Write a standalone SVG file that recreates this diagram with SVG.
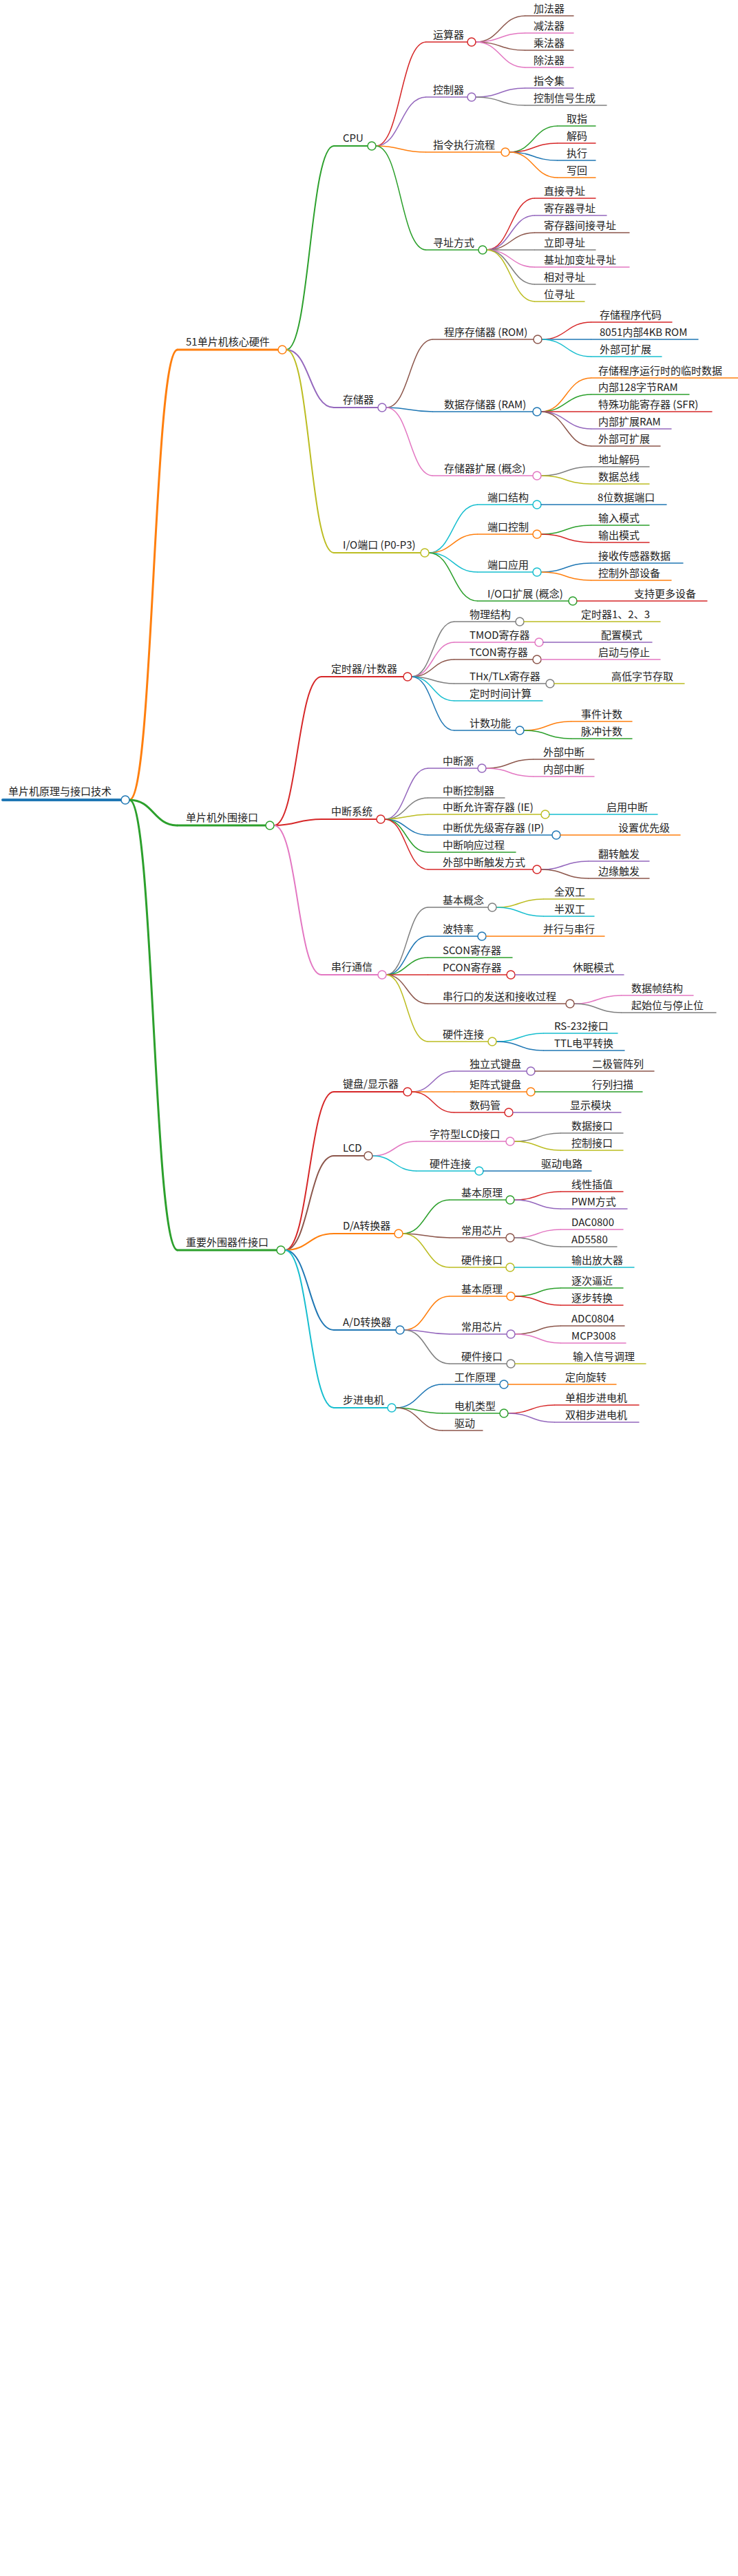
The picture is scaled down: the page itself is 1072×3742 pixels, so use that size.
<svg xmlns="http://www.w3.org/2000/svg" width="1072" height="3742" viewBox="0 0 1072 3742">
<style>
text{font-family:"Noto Sans CJK SC","Liberation Sans",sans-serif;font-size:15px;fill:#222}
path{fill:none}
line{stroke-linecap:round}
circle{fill:#fff;stroke-width:1.5}
.w4{stroke-width:4}.w3{stroke-width:3}.w2{stroke-width:2}.w1{stroke-width:1.5}
.bl{stroke:#1f77b4}.or{stroke:#ff7f0e}.gr{stroke:#2ca02c}.rd{stroke:#d62728}.pu{stroke:#9467bd}.br{stroke:#8c564b}.pk{stroke:#e377c2}.gy{stroke:#7f7f7f}.ol{stroke:#bcbd22}.cy{stroke:#17becf}
</style>
<rect width="1072" height="3742" fill="#fff"/>
<g id="connectors">
<path class="w3 or" d="M188 1162C223 1162 223 508 258 508"/>
<path class="w3 gr" d="M188 1162C223 1162 223 1199 258 1199"/>
<path class="w3 gr" d="M188 1162C223 1162 223 1816 258 1816"/>
<path class="w2 gr" d="M416 508C450 508 450 212 485 212"/>
<path class="w2 pu" d="M416 508C450 508 450 592 485 592"/>
<path class="w2 ol" d="M416 508C450 508 450 803 485 803"/>
<path class="w2 rd" d="M398 1199C432 1199 432 983 467 983"/>
<path class="w2 rd" d="M398 1199C432 1199 432 1190 467 1190"/>
<path class="w2 pk" d="M398 1199C432 1199 432 1416 467 1416"/>
<path class="w2 rd" d="M414 1816C449 1816 449 1586 485 1586"/>
<path class="w2 br" d="M414 1816C449 1816 449 1679 485 1679"/>
<path class="w2 or" d="M414 1816C449 1816 449 1792 485 1792"/>
<path class="w2 bl" d="M414 1816C449 1816 449 1932 485 1932"/>
<path class="w2 cy" d="M414 1816C449 1816 449 2045 485 2045"/>
<path class="w1 rd" d="M546 212C582 212 582 61 619 61"/>
<path class="w1 pu" d="M546 212C582 212 582 141 619 141"/>
<path class="w1 or" d="M546 212C582 212 582 221 619 221"/>
<path class="w1 gr" d="M546 212C582 212 582 363 619 363"/>
<path class="w1 br" d="M691 61C727 61 727 23 763 23"/>
<path class="w1 pk" d="M691 61C727 61 727 48 763 48"/>
<path class="w1 br" d="M691 61C727 61 727 73 763 73"/>
<path class="w1 pk" d="M691 61C727 61 727 98 763 98"/>
<path class="w1 pu" d="M691 141C727 141 727 128 763 128"/>
<path class="w1 gy" d="M691 141C727 141 727 153 763 153"/>
<path class="w1 gr" d="M740 221C775 221 775 183 810 183"/>
<path class="w1 rd" d="M740 221C775 221 775 208 810 208"/>
<path class="w1 bl" d="M740 221C775 221 775 233 810 233"/>
<path class="w1 or" d="M740 221C775 221 775 258 810 258"/>
<path class="w1 rd" d="M707 363C742 363 742 288 777 288"/>
<path class="w1 pu" d="M707 363C742 363 742 313 777 313"/>
<path class="w1 br" d="M707 363C742 363 742 338 777 338"/>
<path class="w1 gy" d="M707 363C742 363 742 363 777 363"/>
<path class="w1 pk" d="M707 363C742 363 742 388 777 388"/>
<path class="w1 gy" d="M707 363C742 363 742 413 777 413"/>
<path class="w1 ol" d="M707 363C742 363 742 438 777 438"/>
<path class="w1 br" d="M561 592C595 592 595 493 629 493"/>
<path class="w1 bl" d="M561 592C595 592 595 598 629 598"/>
<path class="w1 pk" d="M561 592C595 592 595 691 629 691"/>
<path class="w1 rd" d="M787 493C823 493 823 468 859 468"/>
<path class="w1 bl" d="M787 493C823 493 823 493 859 493"/>
<path class="w1 cy" d="M787 493C823 493 823 518 859 518"/>
<path class="w1 or" d="M786 598C822 598 822 549 859 549"/>
<path class="w1 gr" d="M786 598C822 598 822 573 859 573"/>
<path class="w1 rd" d="M786 598C822 598 822 598 859 598"/>
<path class="w1 pu" d="M786 598C822 598 822 623 859 623"/>
<path class="w1 br" d="M786 598C822 598 822 648 859 648"/>
<path class="w1 gy" d="M786 691C822 691 822 678 859 678"/>
<path class="w1 ol" d="M786 691C822 691 822 703 859 703"/>
<path class="w1 cy" d="M623 803C658 803 658 733 694 733"/>
<path class="w1 or" d="M623 803C658 803 658 776 694 776"/>
<path class="w1 cy" d="M623 803C658 803 658 831 694 831"/>
<path class="w1 gr" d="M623 803C658 803 658 873 694 873"/>
<path class="w1 gr" d="M786 776C822 776 822 763 859 763"/>
<path class="w1 rd" d="M786 776C822 776 822 788 859 788"/>
<path class="w1 bl" d="M786 831C822 831 822 818 859 818"/>
<path class="w1 or" d="M786 831C822 831 822 843 859 843"/>
<path class="w1 gy" d="M598 983C629 983 629 903 660 903"/>
<path class="w1 pk" d="M598 983C629 983 629 933 660 933"/>
<path class="w1 br" d="M598 983C629 983 629 958 660 958"/>
<path class="w1 gy" d="M598 983C629 983 629 993 660 993"/>
<path class="w1 cy" d="M598 983C629 983 629 1018 660 1018"/>
<path class="w1 bl" d="M598 983C629 983 629 1061 660 1061"/>
<path class="w1 or" d="M761 1061C795 1061 795 1048 830 1048"/>
<path class="w1 gr" d="M761 1061C795 1061 795 1073 830 1073"/>
<path class="w1 pu" d="M559 1190C590 1190 590 1116 622 1116"/>
<path class="w1 gy" d="M559 1190C590 1190 590 1159 622 1159"/>
<path class="w1 ol" d="M559 1190C590 1190 590 1183 622 1183"/>
<path class="w1 bl" d="M559 1190C590 1190 590 1213 622 1213"/>
<path class="w1 gr" d="M559 1190C590 1190 590 1238 622 1238"/>
<path class="w1 rd" d="M559 1190C590 1190 590 1263 622 1263"/>
<path class="w1 br" d="M706 1116C740 1116 740 1103 775 1103"/>
<path class="w1 pk" d="M706 1116C740 1116 740 1128 775 1128"/>
<path class="w1 pu" d="M786 1263C820 1263 820 1251 855 1251"/>
<path class="w1 br" d="M786 1263C820 1263 820 1276 855 1276"/>
<path class="w1 gy" d="M561 1416C591 1416 591 1318 622 1318"/>
<path class="w1 bl" d="M561 1416C591 1416 591 1360 622 1360"/>
<path class="w1 gr" d="M561 1416C591 1416 591 1391 622 1391"/>
<path class="w1 rd" d="M561 1416C591 1416 591 1416 622 1416"/>
<path class="w1 br" d="M561 1416C591 1416 591 1458 622 1458"/>
<path class="w1 ol" d="M561 1416C591 1416 591 1513 622 1513"/>
<path class="w1 ol" d="M721 1318C755 1318 755 1306 790 1306"/>
<path class="w1 cy" d="M721 1318C755 1318 755 1331 790 1331"/>
<path class="w1 pk" d="M834 1458C868 1458 868 1446 903 1446"/>
<path class="w1 gy" d="M834 1458C868 1458 868 1471 903 1471"/>
<path class="w1 cy" d="M721 1513C755 1513 755 1501 790 1501"/>
<path class="w1 bl" d="M721 1513C755 1513 755 1526 790 1526"/>
<path class="w1 pu" d="M598 1586C629 1586 629 1556 660 1556"/>
<path class="w1 or" d="M598 1586C629 1586 629 1586 660 1586"/>
<path class="w1 rd" d="M598 1586C629 1586 629 1616 660 1616"/>
<path class="w1 pk" d="M541 1679C573 1679 573 1658 605 1658"/>
<path class="w1 cy" d="M541 1679C573 1679 573 1701 605 1701"/>
<path class="w1 gy" d="M747 1658C781 1658 781 1646 815 1646"/>
<path class="w1 ol" d="M747 1658C781 1658 781 1671 815 1671"/>
<path class="w1 gr" d="M585 1792C619 1792 619 1743 653 1743"/>
<path class="w1 br" d="M585 1792C619 1792 619 1798 653 1798"/>
<path class="w1 ol" d="M585 1792C619 1792 619 1841 653 1841"/>
<path class="w1 rd" d="M747 1743C781 1743 781 1731 815 1731"/>
<path class="w1 pu" d="M747 1743C781 1743 781 1756 815 1756"/>
<path class="w1 pk" d="M747 1798C781 1798 781 1786 815 1786"/>
<path class="w1 gy" d="M747 1798C781 1798 781 1811 815 1811"/>
<path class="w1 or" d="M587 1932C620 1932 620 1883 653 1883"/>
<path class="w1 pu" d="M587 1932C620 1932 620 1938 653 1938"/>
<path class="w1 gy" d="M587 1932C620 1932 620 1981 653 1981"/>
<path class="w1 gr" d="M748 1883C782 1883 782 1871 815 1871"/>
<path class="w1 rd" d="M748 1883C782 1883 782 1896 815 1896"/>
<path class="w1 br" d="M748 1938C782 1938 782 1926 815 1926"/>
<path class="w1 pk" d="M748 1938C782 1938 782 1951 815 1951"/>
<path class="w1 bl" d="M575 2045C609 2045 609 2011 643 2011"/>
<path class="w1 gr" d="M575 2045C609 2045 609 2053 643 2053"/>
<path class="w1 br" d="M575 2045C609 2045 609 2078 643 2078"/>
<path class="w1 rd" d="M738 2053C772 2053 772 2041 806 2041"/>
<path class="w1 pu" d="M738 2053C772 2053 772 2066 806 2066"/>
</g>

<g id="n-root"><line class="w4 bl" x1="4" y1="1162" x2="176" y2="1162"/><circle class="bl" cx="182" cy="1162" r="6"/><text x="12" y="1155">单片机原理与接口技术</text></g>

<g id="n-core"><line class="w3 or" x1="258" y1="508" x2="404" y2="508"/><circle class="or" cx="410" cy="508" r="6"/><text x="270" y="502">51单片机核心硬件</text></g>
<g id="n-periph"><line class="w3 gr" x1="258" y1="1199" x2="386" y2="1199"/><circle class="gr" cx="392" cy="1199" r="6"/><text x="270" y="1193">单片机外围接口</text></g>
<g id="n-dev"><line class="w3 gr" x1="258" y1="1816" x2="402" y2="1816"/><circle class="gr" cx="408" cy="1816" r="6"/><text x="270" y="1810">重要外围器件接口</text></g>

<g id="n-cpu"><line class="w2 gr" x1="485" y1="212" x2="534" y2="212"/><circle class="gr" cx="540" cy="212" r="6"/><text x="498" y="206">CPU</text></g>
<g id="n-mem"><line class="w2 pu" x1="485" y1="592" x2="549" y2="592"/><circle class="pu" cx="555" cy="592" r="6"/><text x="498" y="586">存储器</text></g>
<g id="n-io"><line class="w2 ol" x1="485" y1="803" x2="611" y2="803"/><circle class="ol" cx="617" cy="803" r="6"/><text x="498" y="797">I/O端口 (P0-P3)</text></g>
<g id="n-timer"><line class="w2 rd" x1="467" y1="983" x2="586" y2="983"/><circle class="rd" cx="592" cy="983" r="6"/><text x="481" y="977">定时器/计数器</text></g>
<g id="n-int"><line class="w2 rd" x1="467" y1="1190" x2="547" y2="1190"/><circle class="rd" cx="553" cy="1190" r="6"/><text x="481" y="1184">中断系统</text></g>
<g id="n-uart"><line class="w2 pk" x1="467" y1="1416" x2="549" y2="1416"/><circle class="pk" cx="555" cy="1416" r="6"/><text x="481" y="1410">串行通信</text></g>
<g id="n-kbd"><line class="w2 rd" x1="485" y1="1586" x2="586" y2="1586"/><circle class="rd" cx="592" cy="1586" r="6"/><text x="498" y="1580">键盘/显示器</text></g>
<g id="n-lcd"><line class="w2 br" x1="485" y1="1679" x2="529" y2="1679"/><circle class="br" cx="535" cy="1679" r="6"/><text x="498" y="1673">LCD</text></g>
<g id="n-da"><line class="w2 or" x1="485" y1="1792" x2="573" y2="1792"/><circle class="or" cx="579" cy="1792" r="6"/><text x="498" y="1786">D/A转换器</text></g>
<g id="n-ad"><line class="w2 bl" x1="485" y1="1932" x2="575" y2="1932"/><circle class="bl" cx="581" cy="1932" r="6"/><text x="498" y="1926">A/D转换器</text></g>
<g id="n-step"><line class="w2 cy" x1="485" y1="2045" x2="563" y2="2045"/><circle class="cy" cx="569" cy="2045" r="6"/><text x="498" y="2039">步进电机</text></g>

<g id="n-alu"><line class="w1 rd" x1="619" y1="61" x2="679" y2="61"/><circle class="rd" cx="685" cy="61" r="6"/><text x="629" y="56">运算器</text></g>
<g id="n-ctl"><line class="w1 pu" x1="619" y1="141" x2="679" y2="141"/><circle class="pu" cx="685" cy="141" r="6"/><text x="629" y="136">控制器</text></g>
<g id="n-flow"><line class="w1 or" x1="619" y1="221" x2="728" y2="221"/><circle class="or" cx="734" cy="221" r="6"/><text x="629" y="216">指令执行流程</text></g>
<g id="n-addr"><line class="w1 gr" x1="619" y1="363" x2="695" y2="363"/><circle class="gr" cx="701" cy="363" r="6"/><text x="629" y="358">寻址方式</text></g>
<g id="n-l1"><line class="w1 br" x1="763" y1="23" x2="833" y2="23"/><text x="775" y="18">加法器</text></g>
<g id="n-l2"><line class="w1 pk" x1="763" y1="48" x2="833" y2="48"/><text x="775" y="43">减法器</text></g>
<g id="n-l3"><line class="w1 br" x1="763" y1="73" x2="833" y2="73"/><text x="775" y="68">乘法器</text></g>
<g id="n-l4"><line class="w1 pk" x1="763" y1="98" x2="833" y2="98"/><text x="775" y="93">除法器</text></g>
<g id="n-l5"><line class="w1 pu" x1="763" y1="128" x2="833" y2="128"/><text x="775" y="123">指令集</text></g>
<g id="n-l6"><line class="w1 gy" x1="763" y1="153" x2="881" y2="153"/><text x="775" y="148">控制信号生成</text></g>
<g id="n-l7"><line class="w1 gr" x1="810" y1="183" x2="865" y2="183"/><text x="823" y="178">取指</text></g>
<g id="n-l8"><line class="w1 rd" x1="810" y1="208" x2="865" y2="208"/><text x="823" y="203">解码</text></g>
<g id="n-l9"><line class="w1 bl" x1="810" y1="233" x2="865" y2="233"/><text x="823" y="228">执行</text></g>
<g id="n-l10"><line class="w1 or" x1="810" y1="258" x2="865" y2="258"/><text x="823" y="253">写回</text></g>
<g id="n-l11"><line class="w1 rd" x1="777" y1="288" x2="865" y2="288"/><text x="790" y="283">直接寻址</text></g>
<g id="n-l12"><line class="w1 pu" x1="777" y1="313" x2="881" y2="313"/><text x="790" y="308">寄存器寻址</text></g>
<g id="n-l13"><line class="w1 br" x1="777" y1="338" x2="914" y2="338"/><text x="790" y="333">寄存器间接寻址</text></g>
<g id="n-l14"><line class="w1 gy" x1="777" y1="363" x2="865" y2="363"/><text x="790" y="358">立即寻址</text></g>
<g id="n-l15"><line class="w1 pk" x1="777" y1="388" x2="914" y2="388"/><text x="790" y="383">基址加变址寻址</text></g>
<g id="n-l16"><line class="w1 gy" x1="777" y1="413" x2="865" y2="413"/><text x="790" y="408">相对寻址</text></g>
<g id="n-l17"><line class="w1 ol" x1="777" y1="438" x2="849" y2="438"/><text x="790" y="433">位寻址</text></g>

<g id="n-rom"><line class="w1 br" x1="629" y1="493" x2="775" y2="493"/><circle class="br" cx="781" cy="493" r="6"/><text x="645" y="488">程序存储器 (ROM)</text></g>
<g id="n-ram"><line class="w1 bl" x1="629" y1="598" x2="774" y2="598"/><circle class="bl" cx="780" cy="598" r="6"/><text x="645" y="593">数据存储器 (RAM)</text></g>
<g id="n-memx"><line class="w1 pk" x1="629" y1="691" x2="774" y2="691"/><circle class="pk" cx="780" cy="691" r="6"/><text x="645" y="686">存储器扩展 (概念)</text></g>
<g id="n-l18"><line class="w1 rd" x1="859" y1="468" x2="976" y2="468"/><text x="871" y="463">存储程序代码</text></g>
<g id="n-l19"><line class="w1 bl" x1="859" y1="493" x2="1014" y2="493"/><text x="871" y="488">8051内部4KB ROM</text></g>
<g id="n-l20"><line class="w1 cy" x1="859" y1="518" x2="961" y2="518"/><text x="871" y="513">外部可扩展</text></g>
<g id="n-l21"><line class="w1 or" x1="859" y1="549" x2="1072" y2="549"/><text x="869" y="544">存储程序运行时的临时数据</text></g>
<g id="n-l22"><line class="w1 gr" x1="859" y1="573" x2="1001" y2="573"/><text x="869" y="568">内部128字节RAM</text></g>
<g id="n-l23"><line class="w1 rd" x1="859" y1="598" x2="1034" y2="598"/><text x="869" y="593">特殊功能寄存器 (SFR)</text></g>
<g id="n-l24"><line class="w1 pu" x1="859" y1="623" x2="975" y2="623"/><text x="869" y="618">内部扩展RAM</text></g>
<g id="n-l25"><line class="w1 br" x1="859" y1="648" x2="959" y2="648"/><text x="869" y="643">外部可扩展</text></g>
<g id="n-l26"><line class="w1 gy" x1="859" y1="678" x2="943" y2="678"/><text x="869" y="673">地址解码</text></g>
<g id="n-l27"><line class="w1 ol" x1="859" y1="703" x2="943" y2="703"/><text x="869" y="698">数据总线</text></g>

<g id="n-ps"><line class="w1 cy" x1="694" y1="733" x2="774" y2="733"/><circle class="cy" cx="780" cy="733" r="6"/><text x="708" y="728">端口结构</text></g>
<g id="n-pc"><line class="w1 or" x1="694" y1="776" x2="774" y2="776"/><circle class="or" cx="780" cy="776" r="6"/><text x="708" y="771">端口控制</text></g>
<g id="n-pa"><line class="w1 cy" x1="694" y1="831" x2="774" y2="831"/><circle class="cy" cx="780" cy="831" r="6"/><text x="708" y="826">端口应用</text></g>
<g id="n-px"><line class="w1 gr" x1="694" y1="873" x2="826" y2="873"/><circle class="gr" cx="832" cy="873" r="6"/><text x="708" y="868">I/O口扩展 (概念)</text></g>
<g id="n-l28"><line class="w1 bl" x1="786" y1="733" x2="968" y2="733"/><text x="868" y="728">8位数据端口</text></g>
<g id="n-l29"><line class="w1 gr" x1="859" y1="763" x2="943" y2="763"/><text x="869" y="758">输入模式</text></g>
<g id="n-l30"><line class="w1 rd" x1="859" y1="788" x2="943" y2="788"/><text x="869" y="783">输出模式</text></g>
<g id="n-l31"><line class="w1 bl" x1="859" y1="818" x2="992" y2="818"/><text x="869" y="813">接收传感器数据</text></g>
<g id="n-l32"><line class="w1 or" x1="859" y1="843" x2="975" y2="843"/><text x="869" y="838">控制外部设备</text></g>
<g id="n-l33"><line class="w1 rd" x1="838" y1="873" x2="1027" y2="873"/><text x="921" y="868">支持更多设备</text></g>

<g id="n-t1"><line class="w1 gy" x1="660" y1="903" x2="749" y2="903"/><circle class="gy" cx="755" cy="903" r="6"/><text x="682" y="898">物理结构</text></g>
<g id="n-t2"><line class="w1 pk" x1="660" y1="933" x2="777" y2="933"/><circle class="pk" cx="783" cy="933" r="6"/><text x="682" y="928">TMOD寄存器</text></g>
<g id="n-t3"><line class="w1 br" x1="660" y1="958" x2="774" y2="958"/><circle class="br" cx="780" cy="958" r="6"/><text x="682" y="953">TCON寄存器</text></g>
<g id="n-t4"><line class="w1 gy" x1="660" y1="993" x2="793" y2="993"/><circle class="gy" cx="799" cy="993" r="6"/><text x="682" y="988">THx/TLx寄存器</text></g>
<g id="n-t5"><line class="w1 cy" x1="660" y1="1018" x2="788" y2="1018"/><text x="682" y="1013">定时时间计算</text></g>
<g id="n-t6"><line class="w1 bl" x1="660" y1="1061" x2="749" y2="1061"/><circle class="bl" cx="755" cy="1061" r="6"/><text x="682" y="1056">计数功能</text></g>
<g id="n-l34"><line class="w1 ol" x1="761" y1="903" x2="959" y2="903"/><text x="844" y="898">定时器1、2、3</text></g>
<g id="n-l35"><line class="w1 pu" x1="789" y1="933" x2="947" y2="933"/><text x="873" y="928">配置模式</text></g>
<g id="n-l36"><line class="w1 pk" x1="786" y1="958" x2="959" y2="958"/><text x="869" y="953">启动与停止</text></g>
<g id="n-l37"><line class="w1 ol" x1="805" y1="993" x2="994" y2="993"/><text x="888" y="988">高低字节存取</text></g>
<g id="n-l38"><line class="w1 or" x1="830" y1="1048" x2="918" y2="1048"/><text x="844" y="1043">事件计数</text></g>
<g id="n-l39"><line class="w1 gr" x1="830" y1="1073" x2="918" y2="1073"/><text x="844" y="1068">脉冲计数</text></g>

<g id="n-i1"><line class="w1 pu" x1="622" y1="1116" x2="694" y2="1116"/><circle class="pu" cx="700" cy="1116" r="6"/><text x="643" y="1111">中断源</text></g>
<g id="n-i2"><line class="w1 gy" x1="622" y1="1159" x2="733" y2="1159"/><text x="643" y="1154">中断控制器</text></g>
<g id="n-i3"><line class="w1 ol" x1="622" y1="1183" x2="786" y2="1183"/><circle class="ol" cx="792" cy="1183" r="6"/><text x="643" y="1178">中断允许寄存器 (IE)</text></g>
<g id="n-i4"><line class="w1 bl" x1="622" y1="1213" x2="802" y2="1213"/><circle class="bl" cx="808" cy="1213" r="6"/><text x="643" y="1208">中断优先级寄存器 (IP)</text></g>
<g id="n-i5"><line class="w1 gr" x1="622" y1="1238" x2="749" y2="1238"/><text x="643" y="1233">中断响应过程</text></g>
<g id="n-i6"><line class="w1 rd" x1="622" y1="1263" x2="774" y2="1263"/><circle class="rd" cx="780" cy="1263" r="6"/><text x="643" y="1258">外部中断触发方式</text></g>
<g id="n-l40"><line class="w1 br" x1="775" y1="1103" x2="863" y2="1103"/><text x="789" y="1098">外部中断</text></g>
<g id="n-l41"><line class="w1 pk" x1="775" y1="1128" x2="863" y2="1128"/><text x="789" y="1123">内部中断</text></g>
<g id="n-l42"><line class="w1 cy" x1="798" y1="1183" x2="955" y2="1183"/><text x="881" y="1178">启用中断</text></g>
<g id="n-l43"><line class="w1 or" x1="814" y1="1213" x2="988" y2="1213"/><text x="898" y="1208">设置优先级</text></g>
<g id="n-l44"><line class="w1 pu" x1="855" y1="1251" x2="943" y2="1251"/><text x="869" y="1246">翻转触发</text></g>
<g id="n-l45"><line class="w1 br" x1="855" y1="1276" x2="943" y2="1276"/><text x="869" y="1271">边缘触发</text></g>

<g id="n-s1"><line class="w1 gy" x1="622" y1="1318" x2="709" y2="1318"/><circle class="gy" cx="715" cy="1318" r="6"/><text x="643" y="1313">基本概念</text></g>
<g id="n-s2"><line class="w1 bl" x1="622" y1="1360" x2="694" y2="1360"/><circle class="bl" cx="700" cy="1360" r="6"/><text x="643" y="1355">波特率</text></g>
<g id="n-s3"><line class="w1 gr" x1="622" y1="1391" x2="744" y2="1391"/><text x="643" y="1386">SCON寄存器</text></g>
<g id="n-s4"><line class="w1 rd" x1="622" y1="1416" x2="736" y2="1416"/><circle class="rd" cx="742" cy="1416" r="6"/><text x="643" y="1411">PCON寄存器</text></g>
<g id="n-s5"><line class="w1 br" x1="622" y1="1458" x2="822" y2="1458"/><circle class="br" cx="828" cy="1458" r="6"/><text x="643" y="1453">串行口的发送和接收过程</text></g>
<g id="n-s6"><line class="w1 ol" x1="622" y1="1513" x2="709" y2="1513"/><circle class="ol" cx="715" cy="1513" r="6"/><text x="643" y="1508">硬件连接</text></g>
<g id="n-l46"><line class="w1 ol" x1="790" y1="1306" x2="863" y2="1306"/><text x="805" y="1301">全双工</text></g>
<g id="n-l47"><line class="w1 cy" x1="790" y1="1331" x2="863" y2="1331"/><text x="805" y="1326">半双工</text></g>
<g id="n-l48"><line class="w1 or" x1="706" y1="1360" x2="878" y2="1360"/><text x="789" y="1355">并行与串行</text></g>
<g id="n-l49"><line class="w1 pu" x1="748" y1="1416" x2="906" y2="1416"/><text x="832" y="1411">休眠模式</text></g>
<g id="n-l50"><line class="w1 pk" x1="903" y1="1446" x2="1007" y2="1446"/><text x="917" y="1441">数据帧结构</text></g>
<g id="n-l51"><line class="w1 gy" x1="903" y1="1471" x2="1040" y2="1471"/><text x="917" y="1466">起始位与停止位</text></g>
<g id="n-l52"><line class="w1 cy" x1="790" y1="1501" x2="897" y2="1501"/><text x="805" y="1496">RS-232接口</text></g>
<g id="n-l53"><line class="w1 bl" x1="790" y1="1526" x2="907" y2="1526"/><text x="805" y="1521">TTL电平转换</text></g>

<g id="n-k1"><line class="w1 pu" x1="660" y1="1556" x2="765" y2="1556"/><circle class="pu" cx="771" cy="1556" r="6"/><text x="682" y="1551">独立式键盘</text></g>
<g id="n-k2"><line class="w1 or" x1="660" y1="1586" x2="765" y2="1586"/><circle class="or" cx="771" cy="1586" r="6"/><text x="682" y="1581">矩阵式键盘</text></g>
<g id="n-k3"><line class="w1 rd" x1="660" y1="1616" x2="733" y2="1616"/><circle class="rd" cx="739" cy="1616" r="6"/><text x="682" y="1611">数码管</text></g>
<g id="n-l54"><line class="w1 br" x1="777" y1="1556" x2="950" y2="1556"/><text x="860" y="1551">二极管阵列</text></g>
<g id="n-l55"><line class="w1 gr" x1="777" y1="1586" x2="933" y2="1586"/><text x="860" y="1581">行列扫描</text></g>
<g id="n-l56"><line class="w1 pu" x1="745" y1="1616" x2="902" y2="1616"/><text x="828" y="1611">显示模块</text></g>

<g id="n-c1"><line class="w1 pk" x1="605" y1="1658" x2="735" y2="1658"/><circle class="pk" cx="741" cy="1658" r="6"/><text x="624" y="1653">字符型LCD接口</text></g>
<g id="n-c2"><line class="w1 cy" x1="605" y1="1701" x2="690" y2="1701"/><circle class="cy" cx="696" cy="1701" r="6"/><text x="624" y="1696">硬件连接</text></g>
<g id="n-l57"><line class="w1 gy" x1="815" y1="1646" x2="905" y2="1646"/><text x="830" y="1641">数据接口</text></g>
<g id="n-l58"><line class="w1 ol" x1="815" y1="1671" x2="905" y2="1671"/><text x="830" y="1666">控制接口</text></g>
<g id="n-l59"><line class="w1 bl" x1="702" y1="1701" x2="859" y2="1701"/><text x="786" y="1696">驱动电路</text></g>

<g id="n-d1"><line class="w1 gr" x1="653" y1="1743" x2="735" y2="1743"/><circle class="gr" cx="741" cy="1743" r="6"/><text x="670" y="1738">基本原理</text></g>
<g id="n-d2"><line class="w1 br" x1="653" y1="1798" x2="735" y2="1798"/><circle class="br" cx="741" cy="1798" r="6"/><text x="670" y="1793">常用芯片</text></g>
<g id="n-d3"><line class="w1 ol" x1="653" y1="1841" x2="735" y2="1841"/><circle class="ol" cx="741" cy="1841" r="6"/><text x="670" y="1836">硬件接口</text></g>
<g id="n-l60"><line class="w1 rd" x1="815" y1="1731" x2="905" y2="1731"/><text x="830" y="1726">线性插值</text></g>
<g id="n-l61"><line class="w1 pu" x1="815" y1="1756" x2="911" y2="1756"/><text x="830" y="1751">PWM方式</text></g>
<g id="n-l62"><line class="w1 pk" x1="815" y1="1786" x2="905" y2="1786"/><text x="830" y="1781">DAC0800</text></g>
<g id="n-l63"><line class="w1 gy" x1="815" y1="1811" x2="896" y2="1811"/><text x="830" y="1806">AD5580</text></g>
<g id="n-l64"><line class="w1 cy" x1="747" y1="1841" x2="921" y2="1841"/><text x="830" y="1836">输出放大器</text></g>

<g id="n-a1"><line class="w1 or" x1="653" y1="1883" x2="736" y2="1883"/><circle class="or" cx="742" cy="1883" r="6"/><text x="670" y="1878">基本原理</text></g>
<g id="n-a2"><line class="w1 pu" x1="653" y1="1938" x2="736" y2="1938"/><circle class="pu" cx="742" cy="1938" r="6"/><text x="670" y="1933">常用芯片</text></g>
<g id="n-a3"><line class="w1 gy" x1="653" y1="1981" x2="736" y2="1981"/><circle class="gy" cx="742" cy="1981" r="6"/><text x="670" y="1976">硬件接口</text></g>
<g id="n-l65"><line class="w1 gr" x1="815" y1="1871" x2="905" y2="1871"/><text x="830" y="1866">逐次逼近</text></g>
<g id="n-l66"><line class="w1 rd" x1="815" y1="1896" x2="905" y2="1896"/><text x="830" y="1891">逐步转换</text></g>
<g id="n-l67"><line class="w1 br" x1="815" y1="1926" x2="907" y2="1926"/><text x="830" y="1921">ADC0804</text></g>
<g id="n-l68"><line class="w1 pk" x1="815" y1="1951" x2="909" y2="1951"/><text x="830" y="1946">MCP3008</text></g>
<g id="n-l69"><line class="w1 ol" x1="748" y1="1981" x2="938" y2="1981"/><text x="832" y="1976">输入信号调理</text></g>

<g id="n-m1"><line class="w1 bl" x1="643" y1="2011" x2="726" y2="2011"/><circle class="bl" cx="732" cy="2011" r="6"/><text x="660" y="2006">工作原理</text></g>
<g id="n-m2"><line class="w1 gr" x1="643" y1="2053" x2="726" y2="2053"/><circle class="gr" cx="732" cy="2053" r="6"/><text x="660" y="2048">电机类型</text></g>
<g id="n-m3"><line class="w1 br" x1="643" y1="2078" x2="701" y2="2078"/><text x="660" y="2073">驱动</text></g>
<g id="n-l70"><line class="w1 or" x1="738" y1="2011" x2="895" y2="2011"/><text x="821" y="2006">定向旋转</text></g>
<g id="n-l71"><line class="w1 rd" x1="806" y1="2041" x2="928" y2="2041"/><text x="821" y="2036">单相步进电机</text></g>
<g id="n-l72"><line class="w1 pu" x1="806" y1="2066" x2="928" y2="2066"/><text x="821" y="2061">双相步进电机</text></g>
</svg>
